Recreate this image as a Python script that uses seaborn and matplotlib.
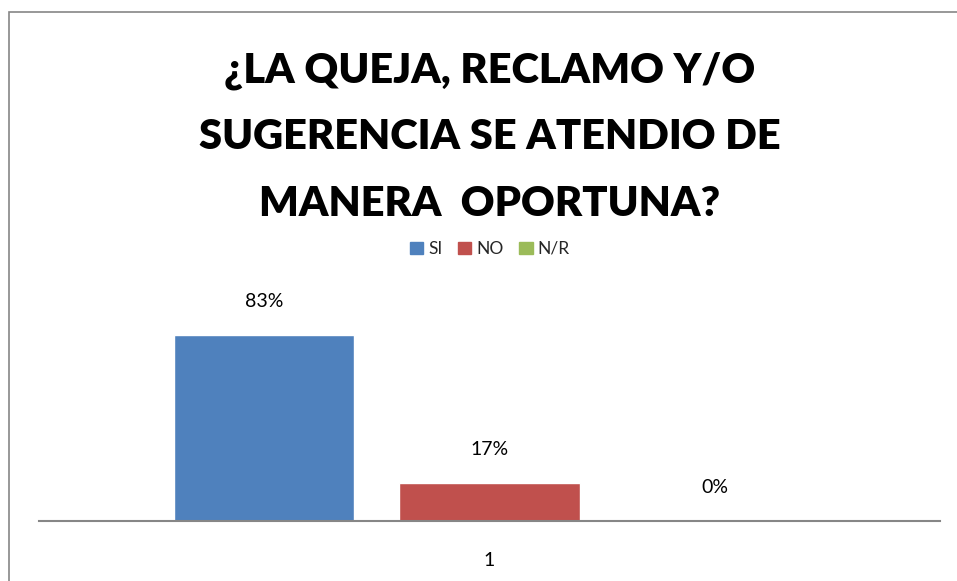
import pandas as pd
import matplotlib.pyplot as plt
import seaborn as sns
from matplotlib.patches import Rectangle

series = ["SI", "NO", "N/R"]
values = [83, 17, 0]
group = ["1", "1", "1"]
colors = ["#4F81BD", "#C0504D", "#9BBB59"]
title = "¿LA QUEJA, RECLAMO Y/O\nSUGERENCIA SE ATENDIO DE\nMANERA  OPORTUNA?"

df = pd.DataFrame({"grupo": group, "serie": series, "valor": values})

sns.set_style("white")
plt.rcParams['font.family'] = ['Lato', 'DejaVu Sans']

fig = plt.figure(figsize=(9.57, 5.81), dpi=100)
ax = fig.add_axes([39 / 957, 60 / 581, 901 / 957, 224 / 581])

sns.barplot(data=df, x="grupo", y="valor", hue="serie", palette=colors,
            saturation=1, width=0.75, gap=0.2, ax=ax, legend=False)

for c in ax.containers:
    ax.bar_label(c, labels=[f"{v:.0f}%" for v in c.datavalues], padding=18,
                 fontsize=14, color="black")

ax.set_ylim(0, 100)
ax.set_xlim(-0.5, 0.5)
ax.set_yticks([])
ax.set_xlabel("")
ax.set_ylabel("")
for s in ["top", "left", "right"]:
    ax.spines[s].set_visible(False)
ax.spines["bottom"].set_color("#868686")
ax.spines["bottom"].set_linewidth(1.5)
ax.tick_params(axis="x", length=0, pad=22, labelsize=14, labelcolor="black")

fig.text(490 / 957, 1 - 137 / 581, title, ha="center", va="center",
         fontsize=30, fontweight="heavy", linespacing=1.92, color="black")

handles = [Rectangle((0, 0), 1, 1, color=c) for c in colors]
fig.legend(handles, series, loc="center", bbox_to_anchor=(490 / 957, 1 - 249 / 581),
           ncol=3, frameon=False, fontsize=12.5, handlelength=0.75, handleheight=0.75,
           handletextpad=0.3, columnspacing=0.9)

fig.patches.append(Rectangle((9 / 957, -0.1), 1.2, 1 - 12 / 581 + 0.1,
                             transform=fig.transFigure, fill=False,
                             edgecolor="#868686", linewidth=1.2))

fig.savefig("out.png", dpi=100)
